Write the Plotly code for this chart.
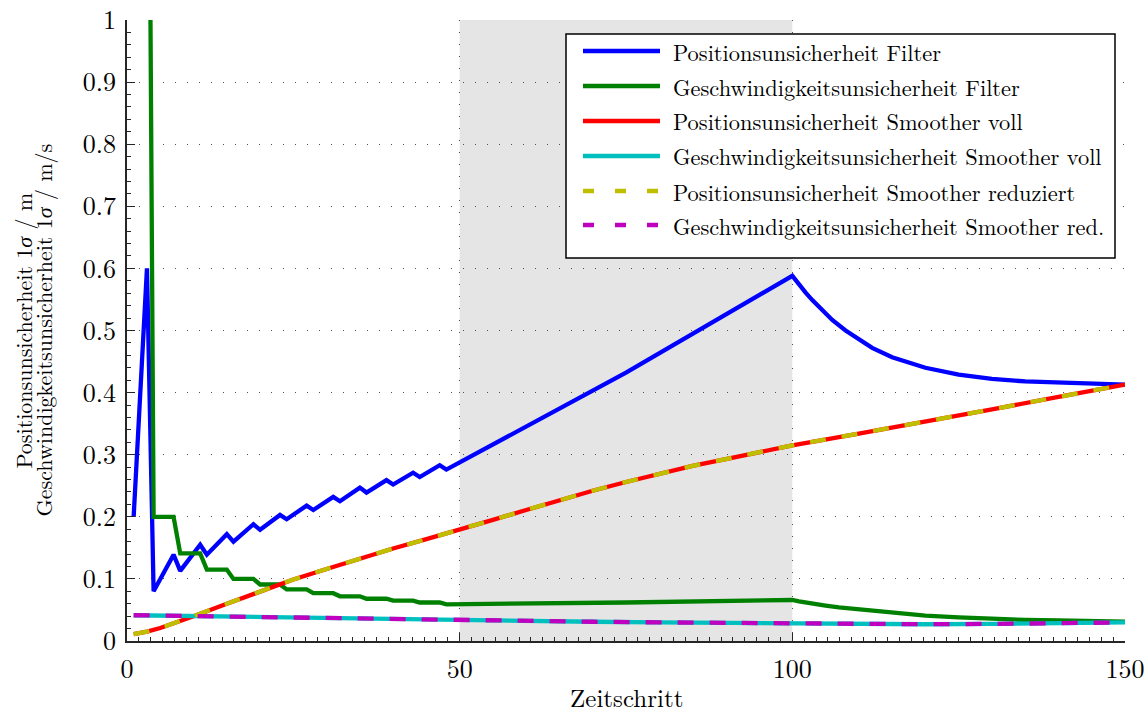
import plotly.graph_objects as go

# ---------------- data ----------------
pos_filter_t = [1, 3, 4, 7, 8, 11, 12, 15, 16, 19, 20, 23, 24, 27, 28, 31, 32, 35, 36,
                39, 40, 43, 44, 47, 48, 75, 100, 101, 102, 103, 104, 105, 106, 108, 110,
                112, 115, 118, 120, 125, 130, 135, 140, 145, 150]
pos_filter = [0.200, 0.600, 0.080, 0.139, 0.113, 0.155, 0.139, 0.172, 0.160, 0.188, 0.179,
              0.203, 0.196, 0.218, 0.211, 0.232, 0.225, 0.247, 0.239, 0.259, 0.252, 0.271,
              0.264, 0.283, 0.276, 0.432, 0.588, 0.574, 0.561, 0.549, 0.538, 0.527, 0.517,
              0.500, 0.485, 0.472, 0.457, 0.446, 0.440, 0.429, 0.422, 0.418, 0.416, 0.414,
              0.413]

vel_filter_t = [1, 2, 3, 4, 7, 8, 11, 12, 15, 16, 19, 20, 23, 24, 27, 28, 31, 32, 35, 36,
                39, 40, 43, 44, 47, 48, 75, 100, 101, 102, 103, 105, 107, 110, 113, 116,
                120, 125, 130, 135, 140, 145, 150]
vel_filter = [4.0, 2.7, 1.9, 0.200, 0.200, 0.141, 0.141, 0.115, 0.115, 0.100, 0.100, 0.091,
              0.091, 0.083, 0.083, 0.077, 0.077, 0.072, 0.072, 0.068, 0.068, 0.065, 0.065,
              0.062, 0.062, 0.059, 0.062, 0.066, 0.064, 0.062, 0.060, 0.057, 0.054, 0.051,
              0.047, 0.044, 0.041, 0.038, 0.0355, 0.034, 0.033, 0.032, 0.031]

pos_smooth_t = [1, 3, 5, 8, 10, 15, 20, 25, 30, 35, 40, 45, 50, 55, 60, 65, 70, 75, 80, 85,
                90, 95, 100, 110, 120, 130, 140, 150]
pos_smooth_full = [0.011, 0.015, 0.021, 0.032, 0.040, 0.060, 0.080, 0.099, 0.116, 0.133,
                   0.149, 0.164, 0.179, 0.195, 0.211, 0.227, 0.242, 0.256, 0.269, 0.282,
                   0.293, 0.304, 0.315, 0.334, 0.353, 0.373, 0.393, 0.413]
pos_smooth_red = [0.011, 0.015, 0.021, 0.032, 0.040, 0.060, 0.080, 0.099, 0.116, 0.133,
                  0.149, 0.164, 0.179, 0.195, 0.211, 0.227, 0.242, 0.256, 0.269, 0.282,
                  0.293, 0.304, 0.315, 0.334, 0.353, 0.373, 0.393, 0.413]

vel_smooth_t = [1, 10, 20, 30, 40, 50, 60, 70, 80, 90, 100, 110, 120, 130, 140, 150]
vel_smooth_full = [0.0415, 0.040, 0.038, 0.0365, 0.035, 0.034, 0.033, 0.031, 0.030, 0.029,
                   0.0285, 0.0275, 0.027, 0.0275, 0.0285, 0.030]
vel_smooth_red = [0.0415, 0.040, 0.038, 0.0365, 0.035, 0.034, 0.033, 0.031, 0.030, 0.029,
                  0.0285, 0.0275, 0.027, 0.0275, 0.0285, 0.030]

labels = ["Positionsunsicherheit Filter",
          "Geschwindigkeitsunsicherheit Filter",
          "Positionsunsicherheit Smoother voll",
          "Geschwindigkeitsunsicherheit Smoother voll",
          "Positionsunsicherheit Smoother reduziert",
          "Geschwindigkeitsunsicherheit Smoother red."]

x_ticks = [0, 50, 100, 150]
shade_range = [50, 100]

x_title = "Zeitschritt"
y_title_1 = "Positionsunsicherheit 1<i>σ</i> / m"
y_title_2 = "Geschwindigkeitsunsicherheit 1<i>σ</i> / m/s"

# ---------------- styling ----------------
FONT = "Latin Modern Roman"
colors = ["#0000ff", "#008000", "#ff0000", "#00bfbf", "#bfbf00", "#bf00bf"]
dashes = ["solid", "solid", "solid", "solid", "16px,16px", "16px,16px"]
LW = 4.3

series = [
    (pos_filter_t, pos_filter),
    (vel_filter_t, vel_filter),
    (pos_smooth_t, pos_smooth_full),
    (vel_smooth_t, vel_smooth_full),
    (pos_smooth_t, pos_smooth_red),
    (vel_smooth_t, vel_smooth_red),
]

fig = go.Figure()
for (t, v), name, c, d in zip(series, labels, colors, dashes):
    fig.add_trace(go.Scatter(x=t, y=v, mode="lines", name=name, showlegend=False,
                             line=dict(color=c, width=LW, dash=d)))

# shaded interval
fig.add_shape(type="rect", xref="x", yref="y", x0=shade_range[0], x1=shade_range[1],
              y0=0, y1=1, fillcolor="#e5e5e5", line=dict(width=0), layer="below")

# plot area in pixels: x 127..1125, y 20..641
L, R, T, B = 127, 1125, 20, 641
W, H = R - L, B - T


def px(xp):
    return (xp - L) / W


def py(yp):
    return (B - yp) / H


# manual legend
fig.add_shape(type="rect", xref="paper", yref="paper",
              x0=px(566), x1=px(1115), y0=py(258), y1=py(34),
              fillcolor="white", line=dict(color="black", width=1.5), layer="above")
rows = [51, 86, 121, 156, 191, 225]
leg_dash = ["solid", "solid", "solid", "solid", "11px,21px", "11px,21px"]
for r, name, c, d in zip(rows, labels, colors, leg_dash):
    fig.add_shape(type="line", xref="paper", yref="paper",
                  x0=px(583), x1=px(660), y0=py(r), y1=py(r),
                  line=dict(color=c, width=LW, dash=d), layer="above")
    fig.add_annotation(xref="paper", yref="paper", x=px(671), y=py(r),
                       xanchor="left", yanchor="middle", text=name, showarrow=False,
                       font=dict(family=FONT, size=22.4, color="black"))

# axis titles
fig.add_annotation(xref="paper", yref="paper", x=0.5, y=py(696), text=x_title,
                   showarrow=False, xanchor="center", yanchor="middle",
                   font=dict(family=FONT, size=25, color="black"))
fig.add_annotation(xref="paper", yref="paper", x=px(22), y=0.5, text=y_title_1,
                   textangle=-90, showarrow=False, xanchor="center", yanchor="middle",
                   font=dict(family=FONT, size=22, color="black"))
fig.add_annotation(xref="paper", yref="paper", x=px(42), y=0.5, text=y_title_2,
                   textangle=-90, showarrow=False, xanchor="center", yanchor="middle",
                   font=dict(family=FONT, size=22, color="black"))

axis_common = dict(
    showline=True, linecolor="#262626", linewidth=1.5,
    ticks="inside", ticklen=8, tickwidth=1, tickcolor="#262626",
    showgrid=True, gridcolor="#505050", gridwidth=1, griddash="1px,11px",
    zeroline=False, automargin=False,
    tickfont=dict(family=FONT, size=26, color="black"),
)

fig.update_xaxes(range=[0, 150], tickvals=x_ticks, ticklabelstandoff=4,
                 minor=dict(ticks="inside", ticklen=4, tickcolor="#262626",
                            dtick=50 / 28, tick0=0, showgrid=False),
                 **axis_common)
fig.update_yaxes(range=[0, 1], dtick=0.1, tick0=0, ticklabelstandoff=4,
                 minor=dict(ticks="inside", ticklen=4, tickcolor="#262626",
                            dtick=0.02, tick0=0, showgrid=False),
                 **axis_common)

fig.update_layout(width=1147, height=713,
                  margin=dict(l=L, r=1147 - R, t=T, b=713 - B, autoexpand=False),
                  paper_bgcolor="white", plot_bgcolor="white",
                  font=dict(family=FONT, size=22, color="black"))

fig.write_html("out.html")
